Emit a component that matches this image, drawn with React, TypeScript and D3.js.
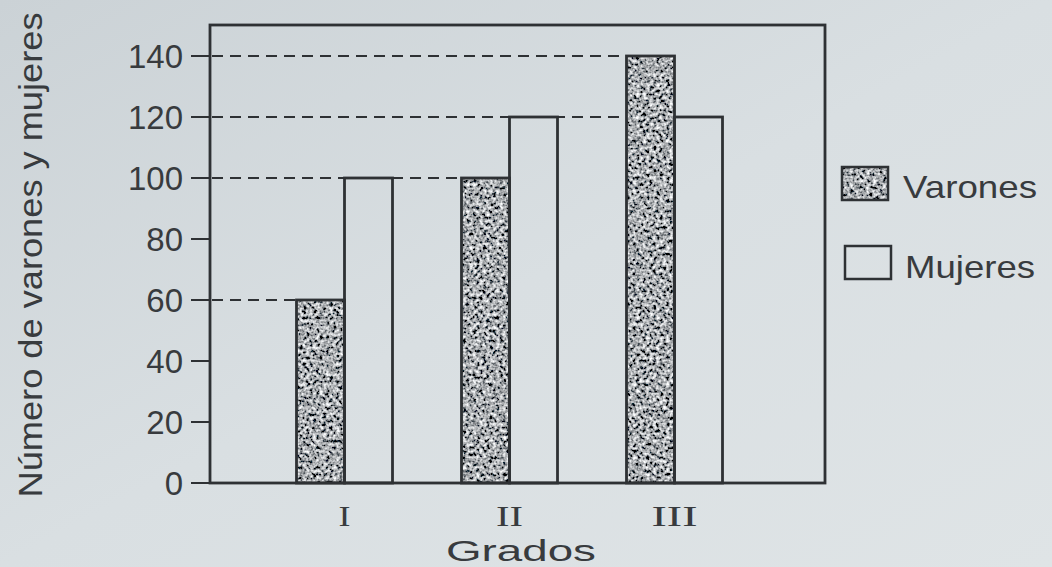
import React from "react";
import * as d3 from "d3";

const grados = ["I", "II", "III"];
const series = ["Varones", "Mujeres"];
const varones = [60, 100, 140];
const mujeres = [100, 120, 120];
const yTicks = [0, 20, 40, 60, 80, 100, 120, 140];
const guideValues = [60, 100, 120, 140];
const guideEnds = ["I", "II", "III", "III"];

const W = 1052;
const H = 567;
const frame = { left: 210, right: 825, top: 25, bottom: 483 };
const INK = "#2e3134";
const TEXT = "#383b3e";
const SANS = "'Liberation Sans', Arial, sans-serif";
const SERIF = "'Liberation Serif', 'Times New Roman', serif";

export default function App() {
  const y = d3.scaleLinear().domain([0, 140]).range([frame.bottom, 56]);
  const x = d3.scaleBand<string>().domain(grados).range([262, 757]).padding(0);
  const half = 48;
  const inner = d3
    .scaleBand<string>()
    .domain(series)
    .range([x.bandwidth() / 2 - half, x.bandwidth() / 2 + half])
    .padding(0);
  const values: Record<string, number[]> = { Varones: varones, Mujeres: mujeres };

  return (
    <svg
      width={W}
      height={H}
      style={{ position: "absolute", left: 0, top: 0, display: "block" }}
    >
      <defs>
        <linearGradient id="bg" x1="0" y1="0" x2="1" y2="1">
          <stop offset="0" stopColor="#cbd2d6" />
          <stop offset="0.5" stopColor="#d9dfe2" />
          <stop offset="1" stopColor="#dfe4e6" />
        </linearGradient>
        <filter id="speckle" x="0" y="0" width="100%" height="100%" filterUnits="objectBoundingBox">
          <feTurbulence type="fractalNoise" baseFrequency="0.3" numOctaves="2" seed="7" result="n" />
          <feColorMatrix
            in="n"
            type="matrix"
            values="2.1 0 0 0 -0.66  2.1 0 0 0 -0.645  2.1 0 0 0 -0.63  0 0 0 0 1"
            result="g"
          />
          <feComposite in="g" in2="SourceAlpha" operator="in" />
        </filter>
      </defs>
      <rect x={0} y={0} width={W} height={H} fill="url(#bg)" />

      {/* guides */}
      {guideValues.map((v, i) => (
        <line
          key={"g" + v}
          x1={frame.left + 2}
          x2={(x(guideEnds[i]) as number) + (inner("Varones") as number)}
          y1={y(v)}
          y2={y(v)}
          stroke={INK}
          strokeWidth={2.2}
          strokeDasharray="11 7"
        />
      ))}

      {/* bars */}
      {grados.map((g, gi) =>
        series.map((s) => {
          const bx = (x(g) as number) + (inner(s) as number);
          const by = y(values[s][gi]);
          const bw = inner.bandwidth();
          const bh = frame.bottom - by;
          return (
            <g key={g + s}>
              {s === "Varones" && (
                <rect x={bx} y={by} width={bw} height={bh} fill="#777" filter="url(#speckle)" />
              )}
              <rect
                x={bx}
                y={by}
                width={bw}
                height={bh}
                fill="none"
                stroke={INK}
                strokeWidth={2.8}
              />
            </g>
          );
        })
      )}

      {/* frame */}
      <rect
        x={frame.left}
        y={frame.top}
        width={frame.right - frame.left}
        height={frame.bottom - frame.top}
        fill="none"
        stroke={INK}
        strokeWidth={2.8}
      />

      {/* y ticks */}
      {yTicks.map((t) => (
        <g key={"t" + t}>
          <line x1={191} x2={frame.left} y1={y(t)} y2={y(t)} stroke={INK} strokeWidth={2} />
          <text
            x={183}
            y={y(t)}
            dy="0.36em"
            textAnchor="end"
            fontFamily={SANS}
            fontSize={33}
            fill={TEXT}
          >
            {t}
          </text>
        </g>
      ))}

      {/* x tick labels */}
      {grados.map((g) => (
        <text
          key={"x" + g}
          x={(x(g) as number) + x.bandwidth() / 2}
          y={526}
          textAnchor="middle"
          fontFamily={SERIF}
          fontSize={30}
          fill={TEXT}
          textLength={g.length === 1 ? 12 : g.length === 2 ? 27 : 46}
          lengthAdjust="spacingAndGlyphs"
        >
          {g}
        </text>
      ))}

      {/* axis titles */}
      <text
        x={521}
        y={561}
        textAnchor="middle"
        fontFamily={SANS}
        fontSize={29}
        fill={TEXT}
        textLength={150}
        lengthAdjust="spacingAndGlyphs"
      >
        Grados
      </text>
      <text
        transform={`translate(42, 255) rotate(-90)`}
        textAnchor="middle"
        fontFamily={SANS}
        fontSize={33}
        fill={TEXT}
        textLength={485}
        lengthAdjust="spacingAndGlyphs"
      >
        Número de varones y mujeres
      </text>

      {/* legend */}
      <rect x={842} y={167} width={46} height={33} fill="#777" filter="url(#speckle)" />
      <rect x={842} y={167} width={46} height={33} fill="none" stroke={INK} strokeWidth={2.5} />
      <text
        x={903}
        y={198}
        fontFamily={SANS}
        fontSize={32}
        fill={TEXT}
        textLength={134}
        lengthAdjust="spacingAndGlyphs"
      >
        Varones
      </text>
      <rect x={845} y={246} width={46} height={33} fill="none" stroke={INK} strokeWidth={2.5} />
      <text
        x={905}
        y={278}
        fontFamily={SANS}
        fontSize={32}
        fill={TEXT}
        textLength={130}
        lengthAdjust="spacingAndGlyphs"
      >
        Mujeres
      </text>
    </svg>
  );
}
